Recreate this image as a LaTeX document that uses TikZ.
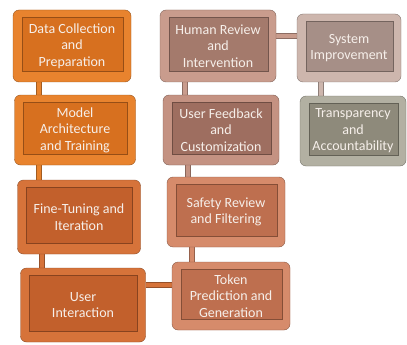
\documentclass[tikz,border=0pt]{standalone}
\usepackage{fontspec}
\setmainfont{Carlito}
\definecolor{ocBright}{HTML}{E8832E}
\definecolor{ocBrightFace}{HTML}{D7701F}
\definecolor{ocRust}{HTML}{D6733A}
\definecolor{ocRustFace}{HTML}{C2602C}
\definecolor{ocRose}{HTML}{C99C8D}
\definecolor{ocRoseFace}{HTML}{A47A6C}
\definecolor{ocMauve}{HTML}{C49282}
\definecolor{ocMauveFace}{HTML}{9E6E60}
\definecolor{ocCopper}{HTML}{D68B6B}
\definecolor{ocCopperFace}{HTML}{BE6F4F}
\definecolor{ocStone}{HTML}{CDB6AD}
\definecolor{ocStoneFace}{HTML}{A68F87}
\definecolor{ocSage}{HTML}{B2B0A2}
\definecolor{ocSageFace}{HTML}{8E8A7B}
\definecolor{ocText}{HTML}{F6EFEA}
\usetikzlibrary{calc,positioning,backgrounds}

\tikzset{
  tile/.style 2 args={draw=#1!65!black, fill=#1, rounded corners=6pt,
    minimum width=118pt, minimum height=72pt, align=center,
    text=ocText, font=\fontsize{14}{16.5}\selectfont, inner sep=0pt,
    path picture={
      \fill[#2, draw=#2!70!black, sharp corners]
        ([shift={(9pt,-7pt)}]path picture bounding box.north west)
        rectangle ([shift={(-8pt,11pt)}]path picture bounding box.south east);
    }},
  bar/.style={draw=#1!70!black, line width=6pt, line cap=butt},
  barcore/.style={draw=#1, line width=4pt},
}

\begin{document}
\begin{tikzpicture}[x=1pt, y=-1pt]
  \useasboundingbox (0,0) rectangle (407,345);
  % left column
  \node[tile={ocBright}{ocBrightFace}] (collect) at (72,46) {Data Collection\\and\\Preparation};
  \node[tile={ocBright}{ocBrightFace}, minimum width=121pt, minimum height=70pt] (model) at (75,130) {Model\\Architecture\\and Training};
  \node[tile={ocRust}{ocRustFace}, minimum width=123pt, minimum height=74pt] (tune) at (79,217) {Fine-Tuning and\\Iteration};
  \node[tile={ocRust}{ocRustFace}, minimum width=125pt, minimum height=74pt] (interact) at (83,305) {User\\Interaction};
  % middle column
  \node[tile={ocRose}{ocRoseFace}, minimum width=116pt] (human) at (218,46) {Human Review\\and\\Intervention};
  \node[tile={ocMauve}{ocMauveFace}, minimum width=116pt, minimum height=70pt] (feedback) at (221,130) {User Feedback\\and\\Customization};
  \node[tile={ocCopper}{ocCopperFace}, minimum width=118pt, minimum height=70pt] (safety) at (226,212) {Safety Review\\and Filtering};
  \node[tile={ocCopper}{ocCopperFace}, minimum width=118pt, minimum height=68pt] (token) at (231,296) {Token\\Prediction and\\Generation};
  % right column
  \node[tile={ocStone}{ocStoneFace}, minimum width=104pt, minimum height=68pt] (improve) at (349,48) {System\\Improvement};
  \node[tile={ocSage}{ocSageFace}, minimum width=106pt, minimum height=70pt] (trust) at (353,131) {Transparency\\and\\Accountability};

  % connecting bars
  \begin{scope}[on background layer]
    \foreach \a/\b/\dx/\c in {collect/model/26/ocBright, model/tune/25/ocBright,
        tune/interact/25/ocRust, human/feedback/25/ocRose,
        feedback/safety/25/ocMauve, safety/token/25/ocCopper,
        improve/trust/24/ocStone} {
      \draw[bar=\c] ([xshift=\dx pt]\a.south west) -- ([xshift=\dx pt]\a.south west |- \b.north);
      \draw[barcore=\c] ([xshift=\dx pt]\a.south west) -- ([xshift=\dx pt]\a.south west |- \b.north);
    }
    \draw[bar=ocRust] (interact.east |- 0,285) -- (token.west |- 0,285);
    \draw[barcore=ocRust] (interact.east |- 0,285) -- (token.west |- 0,285);
    \draw[bar=ocRose] (human.east |- 0,36) -- (improve.west |- 0,36);
    \draw[barcore=ocRose] (human.east |- 0,36) -- (improve.west |- 0,36);
  \end{scope}
\end{tikzpicture}
\end{document}
